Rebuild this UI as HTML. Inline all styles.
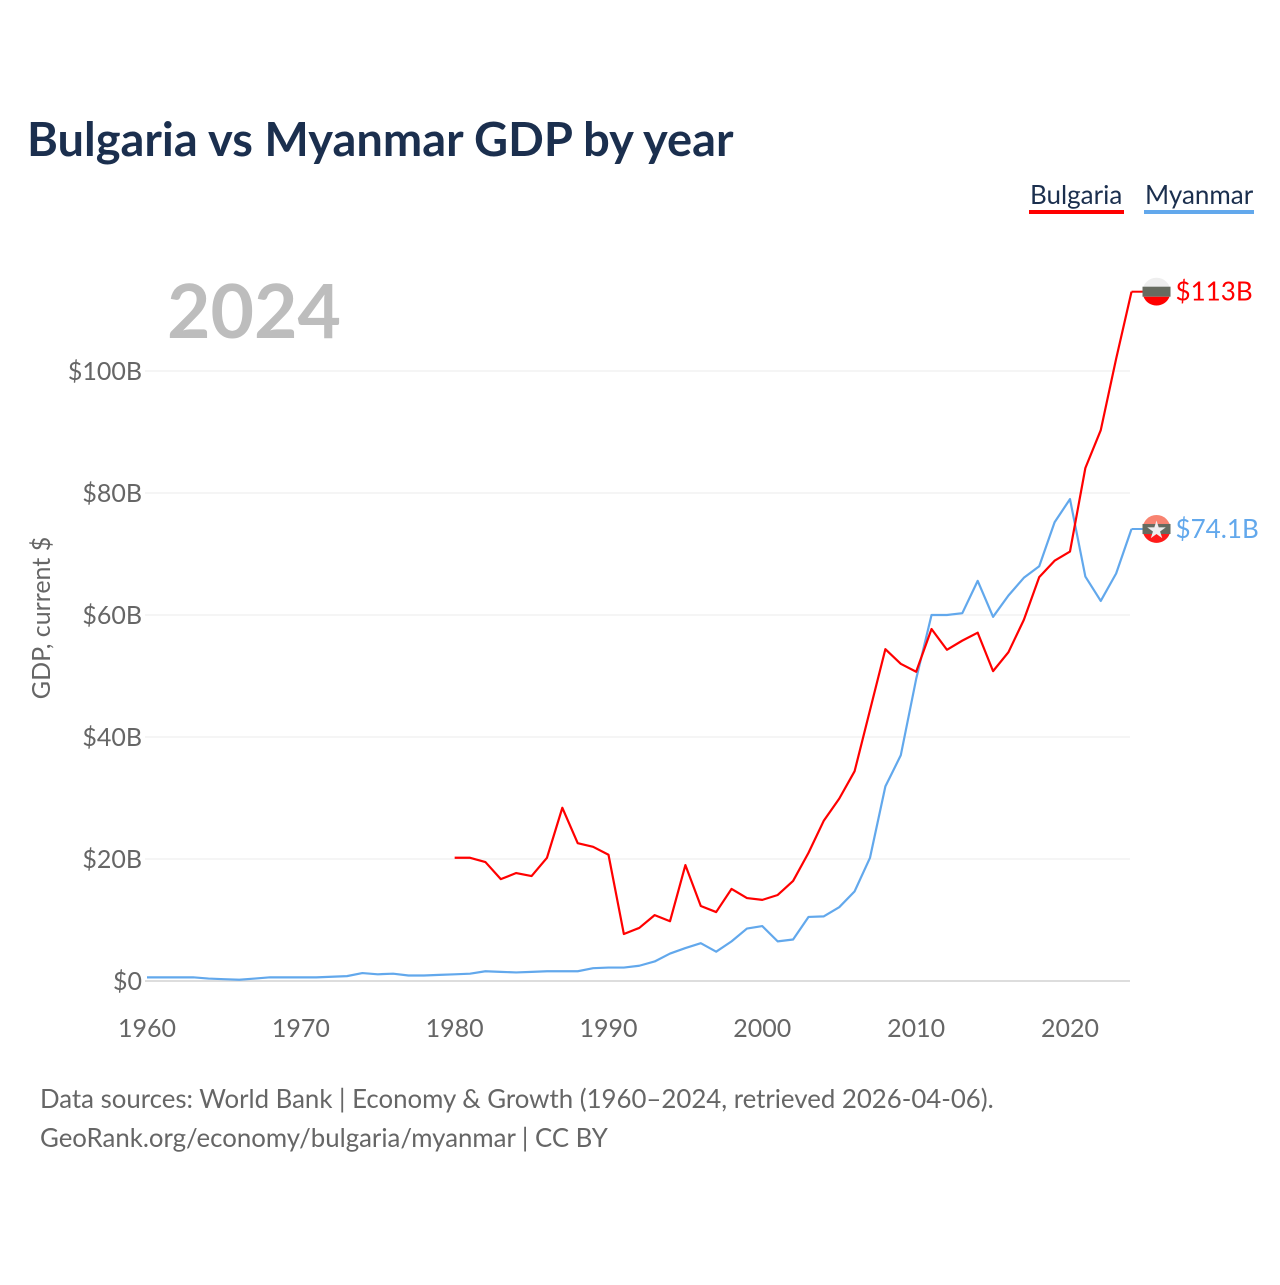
<!DOCTYPE html>
<html><head><meta charset="utf-8"><style>
body{margin:0;background:#fff;font-family:"Liberation Sans",sans-serif}
svg text{font-family:"Lato","Liberation Sans",sans-serif}
</style></head><body>
<svg id="chart" width="1280" height="1280" xmlns="http://www.w3.org/2000/svg">
<text x="27" y="156" font-size="47" font-weight="bold" fill="#1b2f4e">Bulgaria vs Myanmar GDP by year</text>
<g>
<text x="1030" y="204" font-size="26" fill="#1b2f4e">Bulgaria</text>
<rect x="1029" y="210" width="95" height="4" fill="#ff0000"/>
<text x="1145" y="204" font-size="26" fill="#1b2f4e">Myanmar</text>
<rect x="1144" y="210" width="110" height="4" fill="#62a8ec"/>
</g>
<text x="167" y="338" font-size="75" font-weight="bold" fill="#bdbdbd">2024</text>
<text transform="translate(50,618) rotate(-90)" text-anchor="middle" font-size="25" fill="#666">GDP, current $</text>
<g id="grid"></g><g id="series"></g>
<text x="40" y="1108" font-size="25.8" fill="#666">Data sources: World Bank | Economy &amp; Growth (1960–2024, retrieved 2026-04-06).</text>
<text x="40" y="1147" font-size="25.8" fill="#666">GeoRank.org/economy/bulgaria/myanmar | CC BY</text>
</svg>
<script>
const yTicks=[0,20,40,60,80,100];
const xTicks=[1960,1970,1980,1990,2000,2010,2020];
const bgYears=[1980,1981,1982,1983,1984,1985,1986,1987,1988,1989,1990,1991,1992,1993,1994,1995,1996,1997,1998,1999,2000,2001,2002,2003,2004,2005,2006,2007,2008,2009,2010,2011,2012,2013,2014,2015,2016,2017,2018,2019,2020,2021,2022,2023,2024];
const bgValues=[20.2,20.2,19.5,16.7,17.7,17.2,20.2,28.4,22.6,22.0,20.7,7.7,8.7,10.8,9.8,19.0,12.3,11.3,15.1,13.6,13.3,14.1,16.4,21.0,26.3,29.9,34.4,44.4,54.4,52.0,50.7,57.7,54.3,55.8,57.1,50.8,53.9,59.2,66.2,68.9,70.4,84.1,90.3,102,113];
const mmYears=[1960,1961,1962,1963,1964,1965,1966,1967,1968,1969,1970,1971,1972,1973,1974,1975,1976,1977,1978,1979,1980,1981,1982,1983,1984,1985,1986,1987,1988,1989,1990,1991,1992,1993,1994,1995,1996,1997,1998,1999,2000,2001,2002,2003,2004,2005,2006,2007,2008,2009,2010,2011,2012,2013,2014,2015,2016,2017,2018,2019,2020,2021,2022,2023,2024];
const mmValues=[0.6,0.6,0.6,0.6,0.4,0.3,0.2,0.4,0.6,0.6,0.6,0.6,0.7,0.8,1.3,1.1,1.2,0.9,0.9,1.0,1.1,1.2,1.6,1.5,1.4,1.5,1.6,1.6,1.6,2.1,2.2,2.2,2.5,3.2,4.5,5.4,6.2,4.8,6.5,8.6,9.0,6.5,6.8,10.5,10.6,12.1,14.7,20.2,31.9,37.0,49.5,60.0,60.0,60.3,65.6,59.7,63.2,66.1,68.0,75.2,79.0,66.3,62.3,66.8,74.1];
const NS="http://www.w3.org/2000/svg";
const X=y=>147+(y-1960)*15.383;
const Y=v=>981-v*6.1;
const grid=document.getElementById('grid'),ser=document.getElementById('series');
function mk(t,a,p){const e=document.createElementNS(NS,t);for(const k in a)e.setAttribute(k,a[k]);p.appendChild(e);return e;}
yTicks.forEach(v=>{
 const l=mk('line',{x1:145,x2:1130,y1:Y(v),y2:Y(v),stroke:v===0?'#ddd':'#ebebeb','stroke-width':v===0?2:1},grid);
 
 
 const t=mk('text',{x:142,y:Y(v)+9,'text-anchor':'end','font-size':25,fill:'#666'},grid);
 t.textContent='$'+v+(v?'B':'');
 
 
});
xTicks.forEach(y=>{
 const t=mk('text',{x:X(y),y:1037,'text-anchor':'middle','font-size':25,fill:'#666'},grid);
 t.textContent=y;
 
 
});
function line(ys,vs,c,name){
 const p=mk('polyline',{points:ys.map((y,i)=>X(y)+','+Y(vs[i])).join(' '),fill:'none',stroke:c,'stroke-width':2.2,'stroke-linejoin':'round'},ser);
 
 
}
line(mmYears,mmValues,'#62a8ec','myanmar-line');
line(bgYears,bgValues,'#ff0000','bulgaria-line');
function endMark(v,c,label,name,flag){
 const y=Y(v),x=X(2024);
 mk('line',{x1:x,x2:x+12,y1:y,y2:y,stroke:c,'stroke-width':2},ser);
 const g=mk('g',{},ser);
 
 
 const cx=x+25;
 if(flag==='bg'){mk('circle',{cx:cx,cy:y,r:14,fill:'#eee'},g);mk('rect',{x:cx-14,y:y-5,width:28,height:10,fill:'#666b60'},g);mk('path',{d:`M${cx-13},${y+5} A14,14 0 0 0 ${cx+13},${y+5} Z`,fill:'#ff0000'},g);}
 else{mk('circle',{cx:cx,cy:y,r:14,fill:'#f88370'},g);mk('rect',{x:cx-14,y:y-5,width:28,height:10,fill:'#666b60'},g);mk('path',{d:`M${cx-13},${y+5} A14,14 0 0 0 ${cx+13},${y+5} Z`,fill:'#ff1a1a'},g);mk('text',{x:cx,y:y+9,'text-anchor':'middle','font-size':24,fill:'#eee'},g).textContent='★';}
 const t=mk('text',{x:x+44,y:y+9,'font-size':26,fill:c},ser);
 t.textContent=label;
 
 
}
endMark(bgValues[bgValues.length-1],'#ff0000','$113B','bulgaria','bg');
endMark(mmValues[mmValues.length-1],'#62a8ec','$74.1B','myanmar','mm');
</script>
</body></html>
